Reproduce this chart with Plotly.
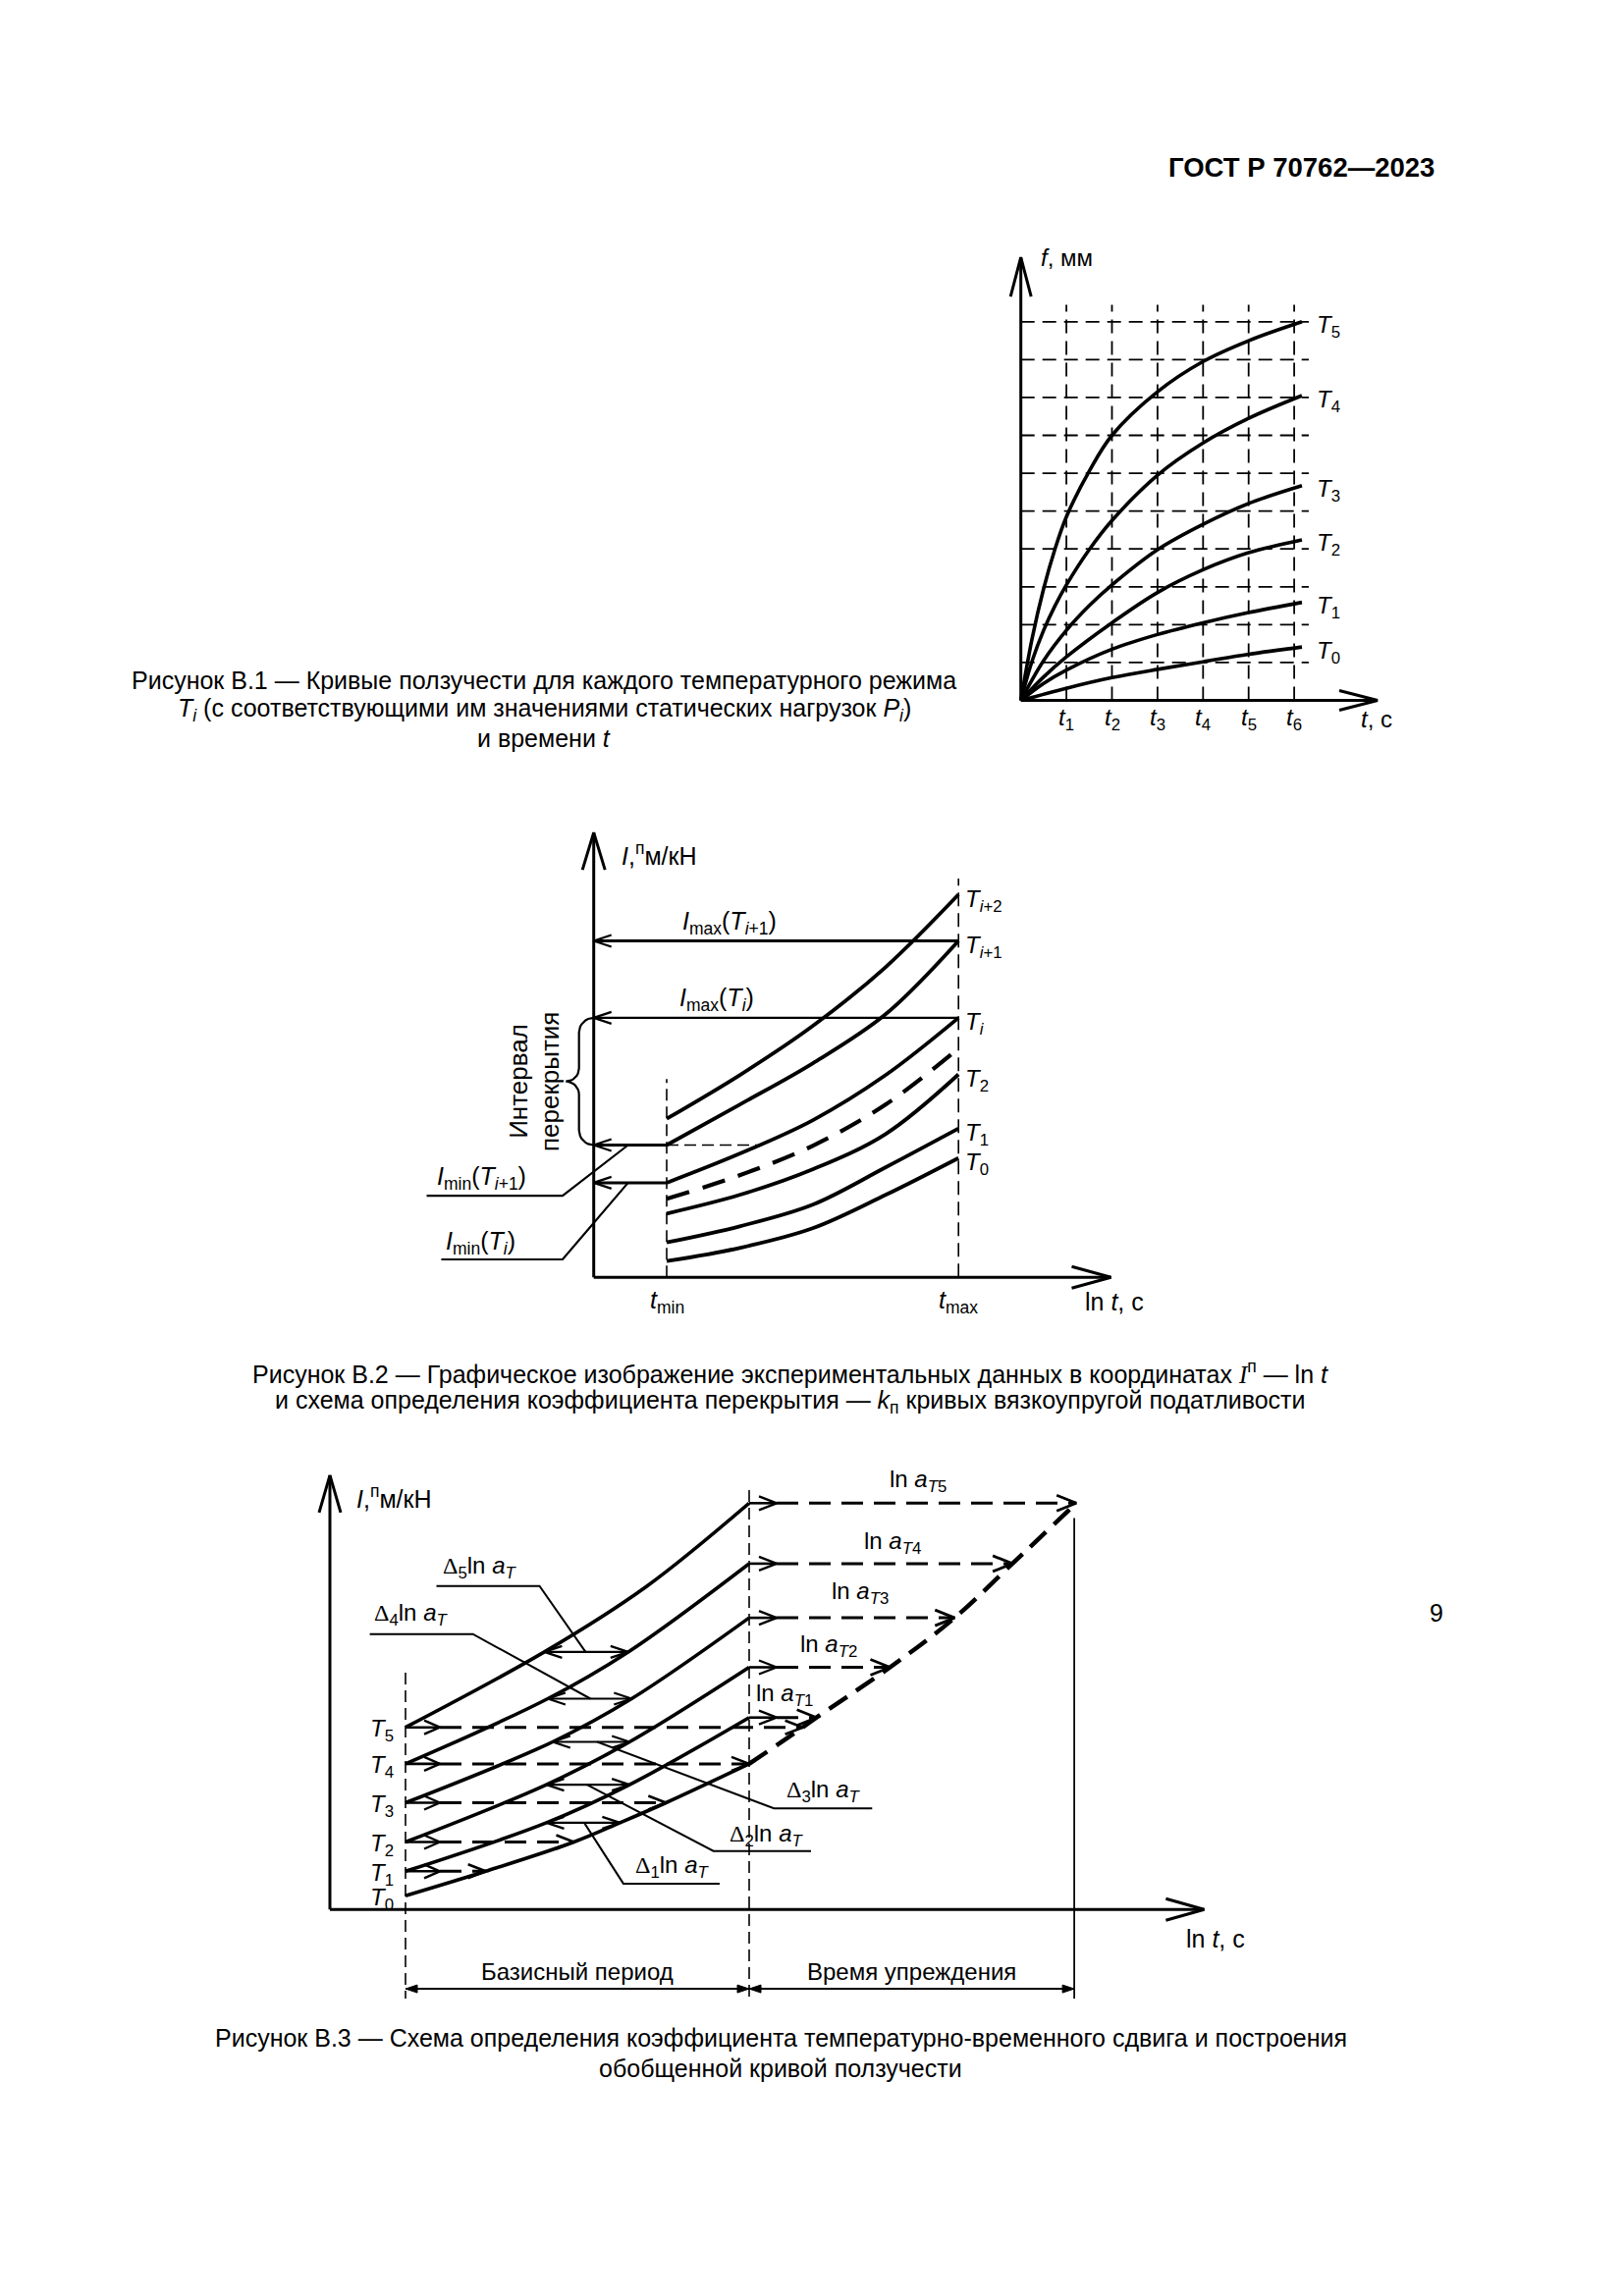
import math
import plotly.graph_objects as go

W, H = 1654, 2339
SANS = "Liberation Sans, Arial, sans-serif"

# ================= DATA =================
# ---- Figure B.1 : creep curves f(t) ----
b1_ticks = [1, 2, 3, 4, 5, 6]
b1_tick_labels = ["<i>t</i><sub>1</sub>", "<i>t</i><sub>2</sub>", "<i>t</i><sub>3</sub>",
                  "<i>t</i><sub>4</sub>", "<i>t</i><sub>5</sub>", "<i>t</i><sub>6</sub>"]
b1_levels = [1, 2, 3, 4, 5, 6, 7, 8, 9, 10]
b1_names = ["<i>T</i><sub>0</sub>", "<i>T</i><sub>1</sub>", "<i>T</i><sub>2</sub>",
            "<i>T</i><sub>3</sub>", "<i>T</i><sub>4</sub>", "<i>T</i><sub>5</sub>"]
b1_T0_x = [0, 1, 2, 3, 4, 5, 6.17]
b1_T0_y = [0, 0.32, 0.60, 0.82, 1.02, 1.22, 1.41]
b1_T1_x = [0, 0.5, 1, 2, 3, 4, 5, 6.17]
b1_T1_y = [0, 0.45, 0.80, 1.35, 1.74, 2.05, 2.32, 2.59]
b1_T2_x = [0, 0.5, 1, 2, 3, 4, 5, 6.17]
b1_T2_y = [0, 0.62, 1.15, 2.05, 2.85, 3.45, 3.90, 4.24]
b1_T3_x = [0, 0.5, 1, 1.5, 2, 3, 4, 5, 6.17]
b1_T3_y = [0, 1.05, 1.85, 2.50, 3.05, 3.98, 4.65, 5.20, 5.67]
b1_T4_x = [0, 0.25, 0.5, 0.75, 1, 1.5, 2, 3, 4, 5, 6.17]
b1_T4_y = [0, 1.05, 1.85, 2.50, 3.05, 3.98, 4.75, 5.95, 6.80, 7.45, 8.05]
b1_T5_x = [0, 0.25, 0.5, 0.75, 1, 1.5, 2, 3, 4, 5, 6.17]
b1_T5_y = [0, 1.65, 2.95, 4.00, 4.85, 6.05, 7.00, 8.15, 8.95, 9.50, 10.0]

# ---- Figure B.2 : compliance vs ln t ----
b2_tmin, b2_tmax = 1.0, 5.0
b2_x = [1, 2, 3, 4, 5]
b2_T0_y = [0.415, 0.75, 1.25, 2.10, 3.04]
b2_T1_y = [0.89, 1.30, 1.85, 2.80, 3.79]
b2_T2_y = [1.625, 2.10, 2.75, 3.65, 5.17]
b2_Tdash_y = [2.00, 2.60, 3.35, 4.40, 5.83]
b2_Ti_y = [2.41, 3.15, 4.00, 5.15, 6.61]
b2_Ti1_y = [3.37, 4.40, 5.45, 6.70, 8.57]
b2_Ti2_y = [4.04, 5.15, 6.40, 7.90, 9.75]
b2_names = ["<i>T</i><sub>0</sub>", "<i>T</i><sub>1</sub>", "<i>T</i><sub>2</sub>",
            "<i>T<sub>i</sub></i>", "<i>T</i><sub><i>i</i>+1</sub>", "<i>T</i><sub><i>i</i>+2</sub>"]

# ---- Figure B.3 : time-temperature shift ----
b3_T0_x = [1, 2.167, 3.45, 4.12, 4.79, 6.0]
b3_T0_y = [0.35, 0.975, 1.72, 2.21, 2.72, 3.71]
b3_T1_x = [1, 3.05, 4.26, 6.0]
b3_T1_y = [0.975, 2.21, 3.18, 4.89]
b3_T2_x = [1, 3.05, 4.26, 6.0]
b3_T2_y = [1.72, 3.18, 4.27, 6.17]
b3_T3_x = [1, 3.14, 4.29, 6.0]
b3_T3_y = [2.72, 4.27, 5.37, 7.43]
b3_T4_x = [1, 3.07, 4.24, 6.0]
b3_T4_y = [3.71, 5.37, 6.56, 8.81]
b3_T5_x = [1, 3.02, 4.5, 6.0]
b3_T5_y = [4.64, 6.56, 8.22, 10.35]
b3_master_x = [6.0, 6.78, 6.98, 8.05, 8.99, 9.83, 10.76]
b3_master_y = [3.71, 4.64, 4.89, 6.17, 7.43, 8.81, 10.35]
b3_names = ["<i>T</i><sub>0</sub>", "<i>T</i><sub>1</sub>", "<i>T</i><sub>2</sub>",
            "<i>T</i><sub>3</sub>", "<i>T</i><sub>4</sub>", "<i>T</i><sub>5</sub>"]
b3_base_start, b3_base_end, b3_forecast_end = 1.0, 6.0, 10.73
b3_lvl_y = [0.975, 1.72, 2.72, 3.71, 4.64]
b3_lvl_end = [2.167, 3.45, 4.79, 6.0, 6.78]
b3_lna_y = [4.89, 6.17, 7.43, 8.81, 10.35]
b3_lna_end = [6.98, 8.05, 8.99, 9.83, 10.76]
b3_lna_labels = ["ln <i>a</i><sub><i>T</i>1</sub>", "ln <i>a</i><sub><i>T</i>2</sub>",
                 "ln <i>a</i><sub><i>T</i>3</sub>", "ln <i>a</i><sub><i>T</i>4</sub>",
                 "ln <i>a</i><sub><i>T</i>5</sub>"]
b3_lna_lab_x = [6.51, 7.15, 7.61, 8.08, 8.45]
b3_lna_lab_y = [5.475, 6.725, 8.06, 9.35, 10.93]
b3_d_y = [2.21, 3.18, 4.27, 5.37, 6.56]
b3_d_left = [3.05, 3.05, 3.14, 3.07, 3.02]
b3_d_right = [4.12, 4.26, 4.26, 4.29, 4.24]
b3_d1_lx = [3.60, 4.17, 5.57]; b3_d1_ly = [2.21, 0.66, 0.66]
b3_d2_lx = [3.64, 5.48, 6.90]; b3_d2_ly = [3.18, 1.49, 1.49]
b3_d3_lx = [3.79, 6.36, 7.79]; b3_d3_ly = [4.27, 2.575, 2.575]
b3_d4_lx = [3.69, 1.98, 0.48]; b3_d4_ly = [5.37, 7.015, 7.015]
b3_d5_lx = [3.62, 2.95, 1.45]; b3_d5_ly = [6.56, 8.24, 8.24]
b3_d_lab_x = [4.31, 5.69, 6.52, 0.52, 1.52]
b3_d_lab_y = [1.10, 1.89, 3.015, 7.515, 8.72]


# ================= PANELS =================
class Panel:
    def __init__(self, n, ox, sx, oy, sy, xr, yr):
        self.n, self.ox, self.sx, self.oy, self.sy, self.xr, self.yr = n, ox, sx, oy, sy, xr, yr
        self.xa = "x" if n == 1 else "x%d" % n
        self.ya = "y" if n == 1 else "y%d" % n

    def px(self, x):
        return self.ox + x * self.sx

    def py(self, y):
        return self.oy - y * self.sy

    def to_x(self, X):
        return (X - self.ox) / self.sx

    def to_y(self, Y):
        return (self.oy - Y) / self.sy


P1 = Panel(1, 1031.7, 46.4, 705.5, 38.57, (-0.6, 8.8), (-1.3, 12.6))
P2 = Panel(2, 596.7, 74.3, 1293.3, 40.0, (-2.6, 7.6), (-1.6, 11.6))
P3 = Panel(3, 335.0, 70.0, 1937.3, 40.0, (-0.3, 13.0), (-3.3, 11.6))

traces = []
annos = []


def line(p, xs, ys, w=2.0, dash="solid", shape="linear"):
    traces.append(go.Scatter(x=xs, y=ys, mode="lines", xaxis=p.xa, yaxis=p.ya,
                             line=dict(color="black", width=w, dash=dash, shape=shape),
                             hoverinfo="skip", showlegend=False))


def head(p, tx, ty, ux, uy, L, Hh):
    n = math.hypot(ux, uy)
    ux, uy = ux / n, uy / n
    nx, ny = -uy, ux
    bx = tx - L * ux / p.sx
    by = ty - L * uy / p.sy
    xs = [bx + Hh * nx / p.sx, tx, bx - Hh * nx / p.sx]
    ys = [by + Hh * ny / p.sy, ty, by - Hh * ny / p.sy]
    return xs, ys


def vhead(p, tx, ty, ux, uy, L=18, Hh=6, w=2.0):
    xs, ys = head(p, tx, ty, ux, uy, L, Hh)
    line(p, xs, ys, w=w)


def filled_head(p, tx, ty, ux, uy, L=12, Hh=4):
    xs, ys = head(p, tx, ty, ux, uy, L, Hh)
    traces.append(go.Scatter(x=xs + [xs[0]], y=ys + [ys[0]], mode="lines", fill="toself",
                             fillcolor="black", line=dict(color="black", width=1),
                             xaxis=p.xa, yaxis=p.ya, hoverinfo="skip", showlegend=False))


def text(p, s, x, y, size=24, xanchor="center", yanchor="middle", xshift=0, yshift=0, angle=0):
    annos.append(dict(text=s, x=x, y=y, xref=p.xa, yref=p.ya,
                      showarrow=False, xanchor=xanchor, yanchor=yanchor, xshift=xshift,
                      yshift=yshift, textangle=angle,
                      font=dict(family=SANS, size=size, color="black")))


def ptext(s, X, Y, size=25, xanchor="center", bold=False):
    annos.append(dict(text=("<b>%s</b>" % s) if bold else s, x=X / W, y=1 - Y / H,
                      xref="paper", yref="paper", showarrow=False, xanchor=xanchor,
                      yanchor="middle", font=dict(family=SANS, size=size, color="black")))


# ================= FIGURE B.1 =================
p = P1
for lv in b1_levels:
    line(p, [0, 6.32], [lv, lv], w=1.8, dash="14px,8px")
for t in b1_ticks:
    line(p, [t, t], [0, 10.45], w=1.8, dash="14px,8px")
b1_curves = [(b1_T0_x, b1_T0_y), (b1_T1_x, b1_T1_y), (b1_T2_x, b1_T2_y),
             (b1_T3_x, b1_T3_y), (b1_T4_x, b1_T4_y), (b1_T5_x, b1_T5_y)]
for (cx, cy), nm in zip(b1_curves, b1_names):
    line(p, cx, cy, w=3.6, shape="spline")
    text(p, nm, 6.44, cy[-1], size=24, xanchor="left", yshift=-5)
line(p, [0, 0], [0, 11.7], w=3.0)
line(p, [0, 7.83], [0, 0], w=3.0)
vhead(p, 0, 11.7, 0, 1, L=40, Hh=10.5, w=3.0)
vhead(p, 7.83, 0, 1, 0, L=39, Hh=10, w=3.0)
for t, lab in zip(b1_ticks, b1_tick_labels):
    text(p, lab, t, -0.49, size=24)
text(p, "<i>f</i>, мм", 0.39, 11.7, size=24, xanchor="left")
text(p, "<i>t</i>, с", 7.43, -0.49, size=24, xanchor="left")

# ================= FIGURE B.2 =================
p = P2
line(p, [b2_tmin, b2_tmin], [0, 5.05], w=1.6, dash="12px,6px")
line(p, [b2_tmax, b2_tmax], [0, 10.16], w=1.6, dash="14px,7px")
b2_curves = [b2_T0_y, b2_T1_y, b2_T2_y, b2_Ti_y, b2_Ti1_y, b2_Ti2_y]
for cy, nm in zip(b2_curves, b2_names):
    line(p, b2_x, cy, w=3.8, shape="spline")
    text(p, nm, 5.07, cy[-1], size=24, xanchor="left", yshift=-6)
line(p, b2_x, b2_Tdash_y, w=4.2, dash="24px,14px", shape="spline")
line(p, [b2_tmax, 0], [b2_Ti1_y[-1]] * 2, w=3.0)
vhead(p, 0, b2_Ti1_y[-1], -1, 0, L=18, Hh=6, w=2.2)
line(p, [b2_tmax, 0], [b2_Ti_y[-1]] * 2, w=2.2)
vhead(p, 0, b2_Ti_y[-1], -1, 0, L=18, Hh=6, w=2.2)
line(p, [b2_tmin, 0], [b2_Ti1_y[0]] * 2, w=3.0)
vhead(p, 0, b2_Ti1_y[0], -1, 0, L=18, Hh=6, w=2.2)
line(p, [b2_tmin, 2.24], [b2_Ti1_y[0]] * 2, w=1.6, dash="12px,6px")
line(p, [b2_tmin, 0], [b2_Ti_y[0]] * 2, w=3.0)
vhead(p, 0, b2_Ti_y[0], -1, 0, L=18, Hh=6, w=2.2)
# brace (interval of overlap)
X0 = p.px(0); Yt = p.py(b2_Ti_y[-1]); Yb = p.py(b2_Ti1_y[0]); Ym = (Yt + Yb) / 2
r, r2 = 15.0, 13.3
xb = X0 - r
pts = []
for i in range(9):
    th = math.radians(-90 - 90 * i / 8)
    pts.append((X0 + r * math.cos(th), Yt + r + r * math.sin(th)))
for i in range(9):
    th = math.radians(90 * i / 8)
    pts.append((xb - r2 + r2 * math.cos(th), Ym - r2 + r2 * math.sin(th)))
for i in range(9):
    th = math.radians(-90 + 90 * i / 8)
    pts.append((xb - r2 + r2 * math.cos(th), Ym + r2 + r2 * math.sin(th)))
for i in range(9):
    th = math.radians(180 - 90 * i / 8)
    pts.append((X0 + r * math.cos(th), Yb - r + r * math.sin(th)))
line(p, [p.to_x(a) for a, b in pts], [p.to_y(b) for a, b in pts], w=2.2)
text(p, "Интервал", -1.03, (b2_Ti_y[-1] + b2_Ti1_y[0]) / 2, size=26, angle=-90)
text(p, "перекрытия", -0.61, (b2_Ti_y[-1] + b2_Ti1_y[0]) / 2, size=26, angle=-90)
line(p, [-2.29, -0.427, 0.471], [2.08, 2.08, b2_Ti1_y[0]], w=2.2)
line(p, [-2.09, -0.427, 0.471], [0.458, 0.458, b2_Ti_y[0]], w=2.2)
text(p, "<i>I</i><sub>min</sub>(<i>T</i><sub><i>i</i>+1</sub>)", -1.54, 2.54, size=25)
text(p, "<i>I</i><sub>min</sub>(<i>T<sub>i</sub></i>)", -1.55, 0.875, size=25)
text(p, "<i>I</i><sub>max</sub>(<i>T</i><sub><i>i</i>+1</sub>)", 1.86, 9.04, size=25)
text(p, "<i>I</i><sub>max</sub>(<i>T<sub>i</sub></i>)", 1.68, 7.08, size=25)
line(p, [0, 0], [0, 11.33], w=3.0)
line(p, [0, 7.09], [0, 0], w=3.0)
vhead(p, 0, 11.33, 0, 1, L=38, Hh=11.5, w=3.0)
vhead(p, 7.09, 0, 1, 0, L=40, Hh=11, w=3.0)
text(p, "<i>t</i><sub>min</sub>", b2_tmin, -0.62, size=25)
text(p, "<i>t</i><sub>max</sub>", b2_tmax, -0.62, size=25)
text(p, "ln <i>t</i>, с", 6.71, -0.62, size=25, xanchor="left")
text(p, "<i>I</i>,<sup>п</sup>м/кН", 0.36, 10.79, size=25, xanchor="left")

# ================= FIGURE B.3 =================
p = P3
line(p, [b3_base_start] * 2, [6.03, -2.27], w=1.6, dash="12px,6px")
line(p, [b3_base_end] * 2, [10.68, -2.27], w=1.6, dash="12px,6px")
line(p, [b3_forecast_end] * 2, [9.97, -2.27], w=1.8)
b3_curves = [(b3_T0_x, b3_T0_y), (b3_T1_x, b3_T1_y), (b3_T2_x, b3_T2_y),
             (b3_T3_x, b3_T3_y), (b3_T4_x, b3_T4_y), (b3_T5_x, b3_T5_y)]
for (cx, cy), nm in zip(b3_curves, b3_names):
    line(p, cx, cy, w=3.6, shape="spline")
    text(p, nm, 0.86, cy[0], size=24, xanchor="right", yshift=-3)
line(p, b3_master_x, b3_master_y, w=4.5, dash="22px,11px", shape="spline")
for yl, xe in zip(b3_lvl_y, b3_lvl_end):
    line(p, [b3_base_start, 1.5], [yl, yl], w=2.6)
    vhead(p, 1.5, yl, 1, 0, L=16, Hh=7, w=2.4)
    line(p, [1.5, xe], [yl, yl], w=3.0, dash="22px,11px")
    vhead(p, xe, yl, 1, 0, L=18, Hh=7, w=2.6)
for yl, xe, lab, lx, ly in zip(b3_lna_y, b3_lna_end, b3_lna_labels, b3_lna_lab_x, b3_lna_lab_y):
    line(p, [b3_base_end, 6.4], [yl, yl], w=2.6)
    vhead(p, 6.4, yl, 1, 0, L=18, Hh=7, w=2.4)
    line(p, [6.4, xe], [yl, yl], w=3.0, dash="22px,11px")
    vhead(p, xe, yl, 1, 0, L=20, Hh=8, w=2.8)
    text(p, lab, lx, ly, size=24)
for yl, xl, xr in zip(b3_d_y, b3_d_left, b3_d_right):
    line(p, [xl, xr], [yl, yl], w=2.2)
    vhead(p, xl, yl, -1, 0, L=18, Hh=6, w=2.2)
    vhead(p, xr, yl, 1, 0, L=18, Hh=6, w=2.2)
for lx, ly in [(b3_d1_lx, b3_d1_ly), (b3_d2_lx, b3_d2_ly), (b3_d3_lx, b3_d3_ly),
               (b3_d4_lx, b3_d4_ly), (b3_d5_lx, b3_d5_ly)]:
    line(p, lx, ly, w=2.0)
for k, (tx, ty) in enumerate(zip(b3_d_lab_x, b3_d_lab_y)):
    s = ("<span style=\"font-family:'Liberation Serif'\">Δ</span><sub>%d</sub>ln <i>a</i><sub><i>T</i></sub>"
         % (k + 1))
    text(p, s, tx, ty, size=24, xanchor="left")
line(p, [-0.1, -0.1], [0, 11.06], w=3.0)
line(p, [-0.1, 12.62], [0, 0], w=3.0)
vhead(p, -0.1, 11.06, 0, 1, L=38, Hh=11, w=3.0)
vhead(p, 12.62, 0, 1, 0, L=39, Hh=11, w=3.0)
text(p, "<i>I</i>,<sup>п</sup>м/кН", 0.26, 10.5, size=25, xanchor="left")
text(p, "ln <i>t</i>, с", 12.33, -0.735, size=25, xanchor="left")
line(p, [b3_base_start, b3_base_end], [-2.02, -2.02], w=2.0)
line(p, [b3_base_end, b3_forecast_end], [-2.02, -2.02], w=2.0)
filled_head(p, b3_base_start, -2.02, -1, 0)
filled_head(p, b3_base_end, -2.02, 1, 0)
filled_head(p, b3_base_end, -2.02, -1, 0)
filled_head(p, b3_forecast_end, -2.02, 1, 0)
text(p, "Базисный период", (b3_base_start + b3_base_end) / 2, -1.57, size=24)
text(p, "Время упреждения", (b3_base_end + b3_forecast_end) / 2, -1.57, size=24)

# ================= PAGE TEXT =================
ptext("ГОСТ Р 70762—2023", 1455, 163, size=27.5, xanchor="right", bold=True)
ptext("Рисунок В.1 — Кривые ползучести для каждого температурного режима", 546, 685)
ptext("<i>T<sub>i</sub></i> (с соответствующими им значениями статических нагрузок <i>P<sub>i</sub></i>)", 546, 715)
ptext("и времени <i>t</i>", 546, 744)
ptext("Рисунок В.2 — Графическое изображение экспериментальных данных в координатах "
      "<span style=\"font-family:'Liberation Serif'\"><i>I</i></span><sup>п</sup> — ln <i>t</i>", 797, 1390)
ptext("и схема определения коэффициента перекрытия — <i>k</i><sub>п</sub> кривых вязкоупругой податливости", 797, 1420)
ptext("Рисунок В.3 — Схема определения коэффициента температурно-временного сдвига и построения", 787, 2068)
ptext("обобщенной кривой ползучести", 787, 2099)
ptext("9", 1455, 1635)

# ================= LAYOUT =================
fig = go.Figure(data=traces)
lay = dict(width=W, height=H, margin=dict(l=0, r=0, t=0, b=0), paper_bgcolor="white",
           plot_bgcolor="rgba(0,0,0,0)", showlegend=False, annotations=annos)
for pn in (P1, P2, P3):
    kx = "xaxis" if pn.n == 1 else "xaxis%d" % pn.n
    ky = "yaxis" if pn.n == 1 else "yaxis%d" % pn.n
    lay[kx] = dict(domain=[pn.px(pn.xr[0]) / W, pn.px(pn.xr[1]) / W], range=list(pn.xr),
                   visible=False, fixedrange=True, anchor=pn.ya)
    lay[ky] = dict(domain=[1 - pn.py(pn.yr[0]) / H, 1 - pn.py(pn.yr[1]) / H], range=list(pn.yr),
                   visible=False, fixedrange=True, anchor=pn.xa)
fig.update_layout(**lay)
fig.write_html("out.html")
